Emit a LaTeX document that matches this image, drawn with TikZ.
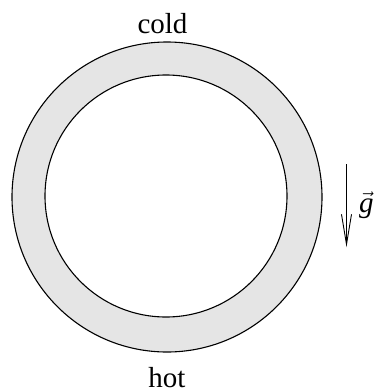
\documentclass[tikz,border=0pt]{standalone}
\usepackage{fontspec}
\setmainfont{Liberation Serif}
\usepackage{tikz}
\usetikzlibrary{arrows.meta,positioning}

\tikzset{
    wall/.style={circle,draw,line width=1.1pt,fill=gray!20,inner sep=0pt},
    hole/.style={circle,draw,line width=1.1pt,fill=white,inner sep=0pt},
    tag/.style={inner sep=0pt,anchor=base,font=\fontsize{29}{30}\selectfont},
}

\begin{document}
\begin{tikzpicture}[x=1pt,y=-1pt]
    \useasboundingbox (0,0) rectangle (374,392);
    % annulus
    \node[wall,minimum size=310pt] (outer) at (167,197) {};
    \node[hole,minimum size=242pt] (inner) at (166,196) {};

    % labels
    \node[tag] (cold) at (162.5,33) {cold};
    \node[tag] (hot) at (167,387) {hot};

    % gravity
    \coordinate (gtop) at (346.5,164);
    \coordinate (gbot) at (346.5,247);
    \draw[line width=0.9pt,-{Straight Barb[length=30pt,width=10pt]}] (gtop) -- (gbot);
    \node[tag,anchor=base west] (g) at (359,212) {$\vec{\mbox{\itshape g}}$};
\end{tikzpicture}
\end{document}
